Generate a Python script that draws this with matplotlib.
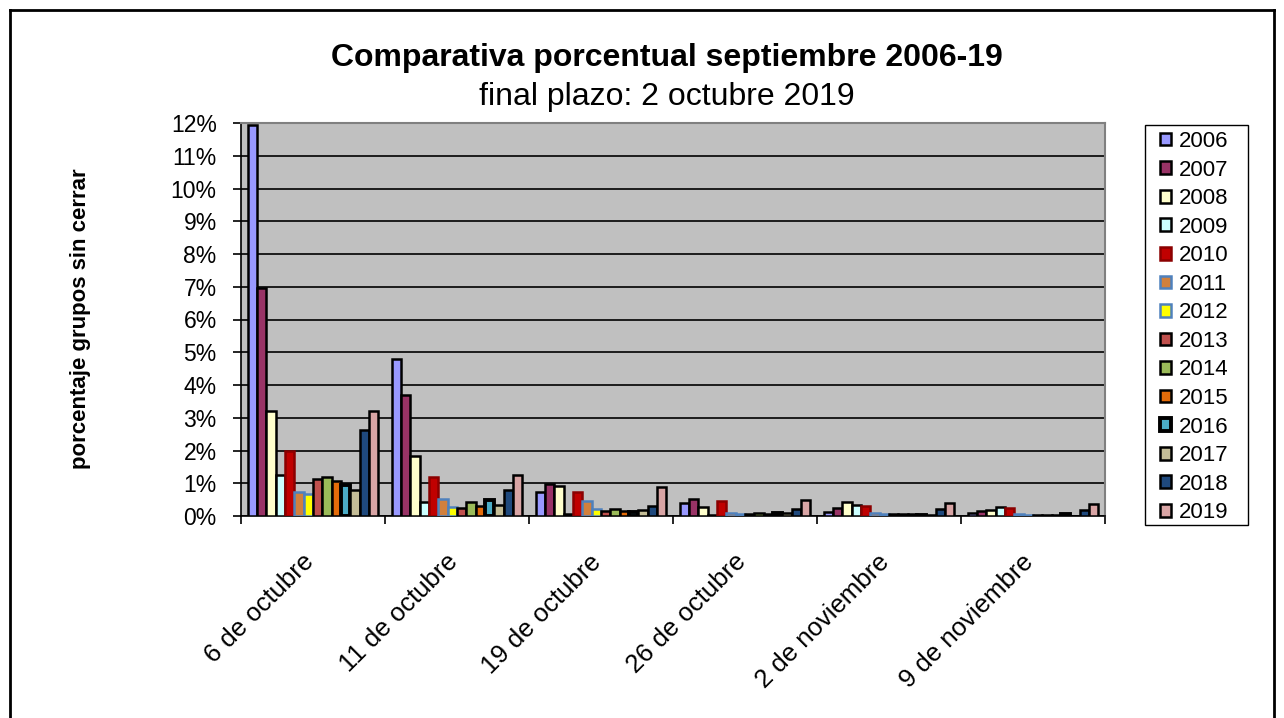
import matplotlib
matplotlib.use("Agg")
import matplotlib.pyplot as plt
import numpy as np
from matplotlib.lines import Line2D
from matplotlib.patches import Rectangle

categories = ["6 de octubre", "11 de octubre", "19 de octubre", "26 de octubre",
              "2 de noviembre", "9 de noviembre"]
years = ["2006", "2007", "2008", "2009", "2010", "2011", "2012", "2013", "2014",
         "2015", "2016", "2017", "2018", "2019"]
# percentages per year, one value per category
v2006 = [11.95, 4.78, 0.73, 0.39, 0.12, 0.10]
v2007 = [6.95, 3.68, 0.97, 0.53, 0.25, 0.16]
v2008 = [3.20, 1.83, 0.92, 0.28, 0.42, 0.17]
v2009 = [1.25, 0.42, 0.05, 0.03, 0.33, 0.28]
v2010 = [1.98, 1.20, 0.72, 0.46, 0.30, 0.25]
v2011 = [0.74, 0.52, 0.45, 0.08, 0.08, 0.05]
v2012 = [0.66, 0.28, 0.20, 0.07, 0.07, 0.02]
v2013 = [1.13, 0.23, 0.16, 0.07, 0.05, 0.02]
v2014 = [1.20, 0.43, 0.22, 0.10, 0.05, 0.03]
v2015 = [1.07, 0.31, 0.14, 0.07, 0.06, 0.02]
v2016 = [0.95, 0.48, 0.12, 0.10, 0.04, 0.06]
v2017 = [0.79, 0.35, 0.18, 0.08, 0.03, 0.01]
v2018 = [2.62, 0.79, 0.30, 0.21, 0.20, 0.17]
v2019 = [3.20, 1.26, 0.90, 0.50, 0.39, 0.37]
values = [v2006, v2007, v2008, v2009, v2010, v2011, v2012, v2013, v2014,
          v2015, v2016, v2017, v2018, v2019]
yticks = list(range(0, 13))

fills = ["#9999FF", "#993366", "#FFFFCC", "#CCFFFF", "#C00000", "#D2803C",
         "#FFFF00", "#C0504D", "#9BBB59", "#E46C0A", "#4BACC6", "#C4BD97",
         "#1F497D", "#D9A5A5"]
edges = ["black", "black", "black", "black", "#8B0000", "#4F81BD", "#4F81BD",
         "black", "black", "black", "black", "black", "black", "black"]
lws = [1.8] * 14
lws[10] = 2.8

plt.rcParams['font.family'] = ['Liberation Sans', 'DejaVu Sans']

W, H = 1284, 718
fig = plt.figure(figsize=(W / 100, H / 100), dpi=100)
ax = fig.add_axes([241 / W, 1 - 516 / H, 864 / W, (516 - 123) / H])
ax.set_facecolor("#C0C0C0")

n = len(years)
x = np.arange(len(categories))
group = 0.907
w = group / n
for i, (yr, vals) in enumerate(zip(years, values)):
    ax.bar(x - group / 2 + w * (i + 0.5), vals, width=w, color=fills[i],
           edgecolor=edges[i], linewidth=lws[i], label=yr, zorder=3)

ax.set_xlim(-0.5, len(categories) - 0.5)
ax.set_ylim(0, 12)
ax.set_yticks(yticks)
ax.set_yticklabels([f"{t}%" for t in yticks], fontsize=16.5)
ax.yaxis.grid(True, color="black", linewidth=1.2, zorder=1)
ax.set_axisbelow(True)
ax.tick_params(axis="y", length=5.5, width=1.2, pad=12)

ax.set_xticks(np.arange(len(categories) + 1) - 0.5)
ax.set_xticklabels([""] * (len(categories) + 1))
ax.tick_params(axis="x", length=6, width=1.2, direction="out")
for xi, lab in zip(x, categories):
    ax.text(xi - 0.08, -1.03, lab, rotation=45, ha="right", va="top",
            rotation_mode="anchor", fontsize=18.5, transform=ax.transData)

for s in ["top", "right"]:
    ax.spines[s].set_color("#808080")
    ax.spines[s].set_linewidth(1.5)
for s in ["left", "bottom"]:
    ax.spines[s].set_color("black")
    ax.spines[s].set_linewidth(1.2)

fig.text(0.519, 1 - 58 / H, "Comparativa porcentual septiembre 2006-19",
         ha="center", va="center", fontsize=23, fontweight="bold")
fig.text(0.519, 1 - 97 / H, "final plazo: 2 octubre 2019",
         ha="center", va="center", fontsize=23)
fig.text(81 / W, 1 - 319 / H, "porcentaje grupos sin cerrar", rotation=90,
         ha="center", va="center", fontsize=16, fontweight="bold")

leg = ax.legend(loc="upper left", bbox_to_anchor=(1160 / W, 1 - 131 / H),
                bbox_transform=fig.transFigure, fontsize=16, frameon=False,
                handlelength=0.5, handleheight=0.5, handletextpad=0.35,
                labelspacing=0.34, borderpad=0, borderaxespad=0)
fig.add_artist(Rectangle((1145 / W, 1 - 525 / H), 103 / W, 400 / H,
                         fill=False, edgecolor="black", linewidth=1.0,
                         transform=fig.transFigure))

# outer chart border
fig.add_artist(Line2D([10 / W, 10 / W], [0, 1 - 10 / H], color="black",
                      linewidth=2, transform=fig.transFigure))
fig.add_artist(Line2D([10 / W, 1274 / W], [1 - 10 / H, 1 - 10 / H],
                      color="black", linewidth=2, transform=fig.transFigure))
fig.add_artist(Line2D([1274 / W, 1274 / W], [0, 1 - 10 / H], color="black",
                      linewidth=2, transform=fig.transFigure))

fig.savefig("out.png", dpi=100)
